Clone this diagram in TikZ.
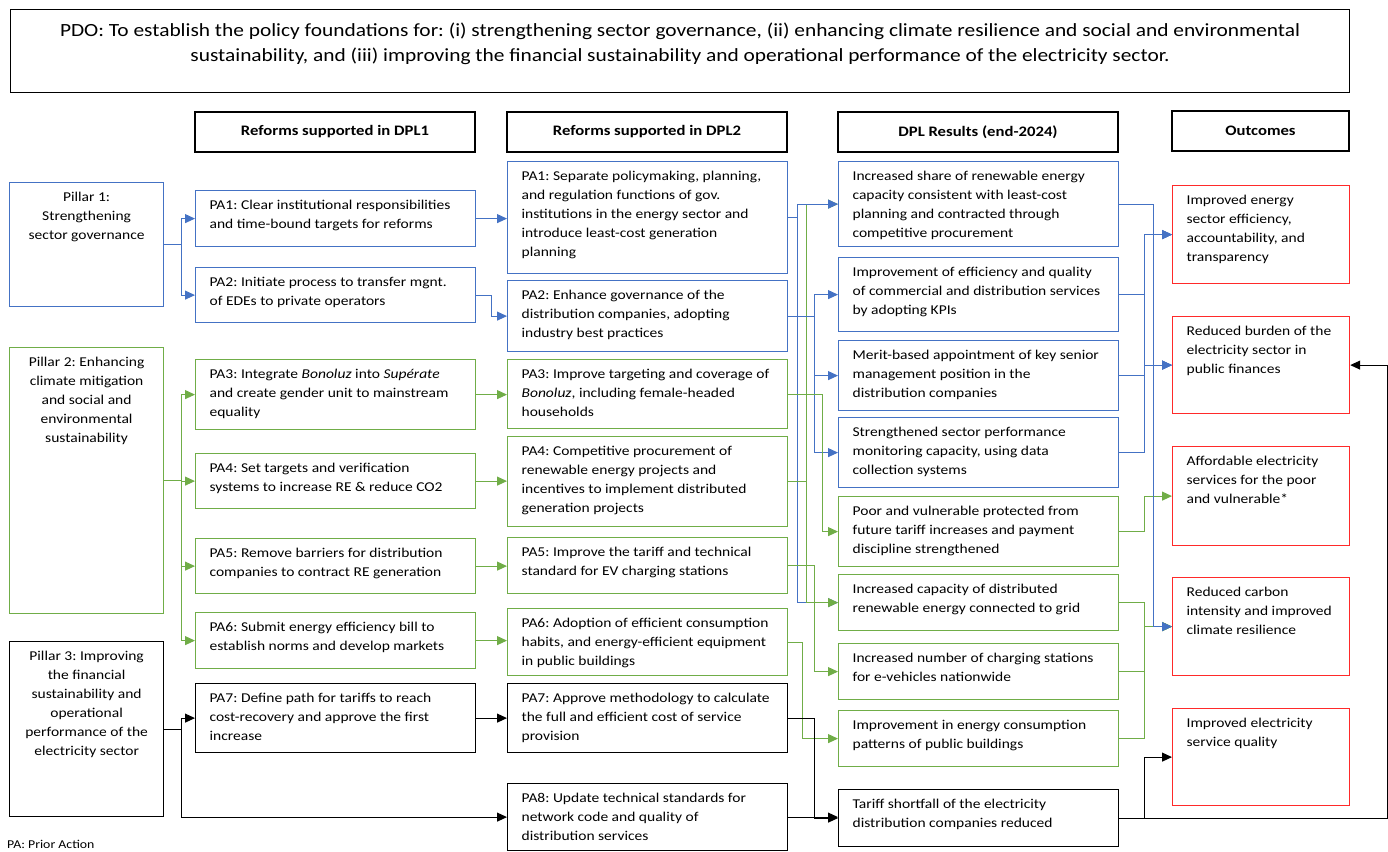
\documentclass[tikz,border=0pt]{standalone}
\usepackage{fontspec}
\setmainfont{Carlito}[FakeStretch=1.15]
\usetikzlibrary{arrows.meta}
\frenchspacing

\definecolor{pblue}{HTML}{4472C4}
\definecolor{pgreen}{HTML}{70AD47}
\definecolor{pred}{HTML}{FF2A2A}

\tikzset{
  cell/.style={draw, line width=1.2pt, inner sep=0pt, anchor=north west},
  head/.style={draw, line width=1.2pt, minimum width=280pt, minimum height=40pt,
    font=\fontsize{14.5}{19}\selectfont\bfseries},
  link/.style={line width=1pt, -{Triangle[length=10pt,width=9pt]}},
}

% top padding of the boxes
\newlength{\cellpad}
\setlength{\cellpad}{10pt}
% #1 name, #2 style, #3 x, #4 y, #5 width, #6 height, #7 text
\newcommand{\cell}[7]{%
  \node[cell,#2] (#1) at (#3,#4)
    {\parbox[c][#6pt][t]{#5pt}{\vspace*{\cellpad}\leftskip=14pt\rightskip=0pt plus 1fil\relax #7}};}

\begin{document}
\begin{tikzpicture}[x=1pt, y=-1pt, font=\fontsize{13.5}{19}\selectfont]
    \useasboundingbox (0,0) rectangle (1388,851);

    % PDO
    \node[cell] (pdo) at (10,9) {\parbox[c][83pt][t]{1339pt}{\vspace*{13pt}\centering\fontsize{18.6}{25}\selectfont
      PDO: To establish the policy foundations for: (i) strengthening sector governance, (ii) enhancing climate resilience and social and environmental\\
      sustainability, and (iii) improving the financial sustainability and operational performance of the electricity sector.}};

    % column headers
    \node[head] (h1) at (335,132) {Reforms supported in DPL1};
    \node[head] (h2) at (647,132) {Reforms supported in DPL2};
    \node[head] (h3) at (978,132) {DPL Results (end-2024)};
    \node[head, minimum width=177pt] (h4) at (1260.5,131) {Outcomes};

    % pillars
    \cell{p1}{draw=pblue}{9}{182}{154}{124}{\centering Pillar 1:\\Strengthening\\sector governance}
    \cell{p2}{draw=pgreen}{9}{347}{154}{266}{\centering Pillar 2: Enhancing\\climate mitigation\\and social and\\environmental\\sustainability}
    \cell{p3}{draw=black}{9}{641}{154}{175}{\centering Pillar 3: Improving\\the financial\\sustainability and\\operational\\performance of the\\electricity sector}
    \node[anchor=west, inner sep=0pt, font=\fontsize{12}{14}\selectfont] (note) at (7,844) {PA: Prior Action};

    % reforms DPL1
    \cell{a1}{draw=pblue}{195}{190}{280}{56}{PA1: Clear institutional responsibilities\\and time-bound targets for reforms}
    \cell{a2}{draw=pblue}{195}{267}{280}{55}{PA2: Initiate process to transfer mgnt.\\of EDEs to private operators}
    \cell{a3}{draw=pgreen}{195}{359}{280}{70}{PA3: Integrate \textit{Bonoluz} into \textit{Supérate}\\and create gender unit to mainstream\\equality}
    \cell{a4}{draw=pgreen}{195}{453}{280}{55}{PA4: Set targets and verification\\systems to increase RE \& reduce CO2}
    \cell{a5}{draw=pgreen}{195}{538}{280}{55}{PA5: Remove barriers for distribution\\companies to contract RE generation}
    \cell{a6}{draw=pgreen}{195}{612}{280}{56}{PA6: Submit energy efficiency bill to\\establish norms and develop markets}
    \cell{a7}{draw=black}{195}{683}{280}{69}{PA7: Define path for tariffs to reach\\cost-recovery and approve the first\\increase}

    % reforms DPL2
    \cell{b1}{draw=pblue}{507}{161}{280}{112}{PA1: Separate policymaking, planning,\\and regulation functions of gov.\\institutions in the energy sector and\\introduce least-cost generation\\planning}
    \cell{b2}{draw=pblue}{507}{280}{280}{71}{PA2: Enhance governance of the\\distribution companies, adopting\\industry best practices}
    \cell{b3}{draw=pgreen}{507}{359}{280}{69}{PA3: Improve targeting and coverage of\\\textit{Bonoluz}, including female-headed\\households}
    \cell{b4}{draw=pgreen}{507}{436}{280}{90}{PA4: Competitive procurement of\\renewable energy projects and\\incentives to implement distributed\\generation projects}
    \cell{b5}{draw=pgreen}{507}{537}{280}{56}{PA5: Improve the tariff and technical\\standard for EV charging stations}
    \cell{b6}{draw=pgreen}{507}{608}{280}{67}{PA6: Adoption of efficient consumption\\habits, and energy-efficient equipment\\in public buildings}
    \cell{b7}{draw=black}{507}{683}{280}{69}{PA7: Approve methodology to calculate\\the full and efficient cost of service\\provision}
    \cell{b8}{draw=black}{507}{783}{280}{67}{PA8: Update technical standards for\\network code and quality of\\distribution services}

    % results
    \cell{r1}{draw=pblue}{838}{161}{280}{85}{Increased share of renewable energy\\capacity consistent with least-cost\\planning and contracted through\\competitive procurement}
    \cell{r2}{draw=pblue}{838}{257}{280}{74}{Improvement of efficiency and quality\\of commercial and distribution services\\by adopting KPIs}
    \cell{r3}{draw=pblue}{838}{340}{280}{70}{Merit-based appointment of key senior\\management position in the\\distribution companies}
    \cell{r4}{draw=pblue}{838}{417}{280}{70}{Strengthened sector performance\\monitoring capacity, using data\\collection systems}
    \cell{r5}{draw=pgreen}{838}{496}{280}{70}{Poor and vulnerable protected from\\future tariff increases and payment\\discipline strengthened}
    \cell{r6}{draw=pgreen}{838}{574}{280}{56}{Increased capacity of distributed\\renewable energy connected to grid}
    \cell{r7}{draw=pgreen}{838}{643}{280}{56}{Increased number of charging stations\\for e-vehicles nationwide}
    \cell{r8}{draw=pgreen}{838}{710}{280}{56}{Improvement in energy consumption\\patterns of public buildings}
    \cell{r9}{draw=black}{838}{789}{280}{57}{Tariff shortfall of the electricity\\distribution companies reduced}

    % outcomes
    \cell{o1}{draw=pred}{1172}{185}{177}{98}{Improved energy\\sector efficiency,\\accountability, and\\transparency}
    \cell{o2}{draw=pred}{1172}{316}{177}{97}{Reduced burden of the\\electricity sector in\\public finances}
    \cell{o3}{draw=pred}{1172}{446}{177}{99}{Affordable electricity\\services for the poor\\and vulnerable*}
    \cell{o4}{draw=pred}{1172}{577}{177}{98}{Reduced carbon\\intensity and improved\\climate resilience}
    \cell{o5}{draw=pred}{1172}{708}{177}{97}{Improved electricity\\service quality}

    % pillars to DPL1
    \draw[link, pblue] (p1.east) -- ++(17,0) |- (a1.west);
    \draw[link, pblue] (p1.east) -- ++(17,0) |- (a2.west);
    \foreach \n in {a3,a4,a5,a6}
        \draw[link, pgreen] (p2.east) -- ++(17,0) |- (\n.west);
    \draw[link] (p3.east) -- ++(17,0) |- (a7.west);
    \draw[link] (p3.east) -- ++(17,0) |- (b8.west);

    % DPL1 to DPL2
    \draw[link, pblue] (a1.east) -- (a1.east -| b1.west);
    \draw[link, pblue] (a2.east) -- ++(15,0) |- (b2.west);
    \foreach \n/\m in {a3/b3,a4/b4,a5/b5,a6/b6}
        \draw[link, pgreen] (\n.east) -- (\n.east -| \m.west);
    \draw[link] (a7.east) -- (a7.east -| b7.west);

    % DPL2 to results
    \draw[link, pblue] (b1.east) -- ++(9,0) |- (r6.west);
    \draw[link, pgreen] (b4.east) -- ++(18,0) |- (r1.west);
    \draw[link, pgreen] (b4.east) -- ++(18,0) |- (r6.west);
    \draw[link, pblue] (b1.east) -- ++(9,0) |- (r1.west);
    \foreach \n in {r2,r3,r4}
        \draw[link, pblue] (b2.east) -- ++(26,0) |- (\n.west);
    \draw[link, pgreen] (b3.east) -- ++(34,0) |- (r5.west);
    \draw[link, pgreen] (b5.east) -- ++(26,0) |- (r7.west);
    \draw[link, pgreen] (b6.east) -- ++(14,0) |- (r8.west);
    \draw[link] (b7.east) -- ++(26,0) |- (r9.west);
    \draw[link] (b8.east) -- (b8.east -| r9.west);

    % results to outcomes
    \foreach \n in {r2,r3,r4} {
        \draw[link, pblue] (\n.east) -- ++(25,0) |- (o1.west);
        \draw[link, pblue] (\n.east) -- ++(25,0) |- (o2.west);
    }
    \draw[link, pgreen] (r5.east) -- ++(25,0) |- (o3.west);
    \foreach \n in {r6,r7,r8}
        \draw[link, pgreen] (\n.east) -- ++(25,0) |- (o4.west);
    \draw[link, pblue] (r1.east) -- ++(34,0) |- (o4.west);
    \draw[link] (r9.east) -- ++(25,0) |- (o5.west);
    \draw[link] (r9.east) -| ([xshift=37pt]o2.east) -- (o2.east);
\end{tikzpicture}
\end{document}
